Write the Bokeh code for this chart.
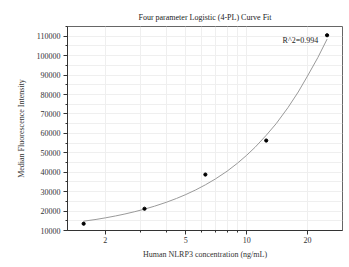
from bokeh.plotting import figure
from bokeh.models import FixedTicker, Label, Range1d
from bokeh.embed import file_html
from bokeh.resources import INLINE

# data
conc = [1.5625, 3.125, 6.25, 12.5, 25]
mfi = [13500, 21200, 38800, 56300, 110500]

# fitted curve
fit_x = [1.5625, 1.8, 2, 2.25, 2.5, 2.8, 3.125, 3.5, 4, 4.5, 5, 5.6, 6.25, 7, 8, 9,
         10, 11, 12.5, 14, 16, 18, 20, 22.5, 25]
fit_y = [14800, 15700, 16500, 17500, 18500, 19700, 21000, 22500, 24500, 26500, 28500,
         30900, 33500, 36500, 40500, 44600, 48700, 52800, 59000, 65000, 73200, 81300,
         89500, 99000, 108500]

x_major = [2, 5, 10, 20]
x_minor = [3, 4, 6, 7, 8, 9, 30]
y_major = [10000, 20000, 30000, 40000, 50000, 60000, 70000, 80000, 90000, 100000, 110000]
y_minor = [15000, 25000, 35000, 45000, 55000, 65000, 75000, 85000, 95000, 105000, 115000]

title_text = "Four parameter Logistic (4-PL) Curve Fit"
r2_text = "R^2=0.994"

FONT = "Liberation Serif"

p = figure(width=349, height=267, x_axis_type="log",
           x_range=Range1d(1.3, 29.8), y_range=Range1d(10000, 115000),
           output_backend="svg", toolbar_location=None,
           min_border_left=67, min_border_right=7, min_border_top=26, min_border_bottom=37,
           title=title_text)

p.title.align = "center"
p.title.text_font = FONT
p.title.text_font_size = "8px"
p.title.text_font_style = "normal"
p.title.text_color = "#222222"
p.title.standoff = 9

p.line(fit_x, fit_y, line_color="#9a9a9a", line_width=1)
p.scatter(conc, mfi, size=3.2, color="black")

p.xaxis.ticker = FixedTicker(ticks=x_major, minor_ticks=x_minor)
p.yaxis.ticker = FixedTicker(ticks=y_major, minor_ticks=y_minor)
p.xaxis.major_label_overrides = {v: str(v) for v in x_major}
p.yaxis.major_label_overrides = {v: str(v) for v in y_major}

for ax in (p.xaxis[0], p.yaxis[0]):
    ax.axis_line_color = "#333333"
    ax.major_tick_line_color = "#333333"
    ax.minor_tick_line_color = "#333333"
    ax.major_tick_out = 4
    ax.major_tick_in = 0
    ax.minor_tick_out = 2
    ax.minor_tick_in = 0
    ax.major_label_text_font = FONT
    ax.major_label_text_font_size = "8px"
    ax.major_label_text_color = "#333333"
    ax.major_label_text_line_height = 1.0
    ax.axis_label_text_font = FONT
    ax.axis_label_text_font_size = "8px"
    ax.axis_label_text_font_style = "normal"
    ax.axis_label_text_color = "#333333"
    ax.axis_label_text_line_height = 1.0

p.xaxis.major_label_standoff = 2
p.yaxis.major_label_standoff = 3
p.xaxis.axis_label = "Human NLRP3 concentration (ng/mL)"
p.yaxis.axis_label = "Median Fluorescence Intensity"
p.xaxis.axis_label_standoff = 4
p.yaxis.axis_label_standoff = 8

for g in (p.xgrid[0], p.ygrid[0]):
    g.grid_line_color = "#efefef"
    g.minor_grid_line_color = "#efefef"

p.outline_line_color = "#666666"
p.outline_line_width = 1

p.add_layout(Label(x=22.6, y=107900, text=r2_text, text_align="right",
                   text_baseline="middle", text_font=FONT, text_font_size="8px",
                   text_color="#222222"))

open("out.html", "w").write(file_html(p, INLINE))
